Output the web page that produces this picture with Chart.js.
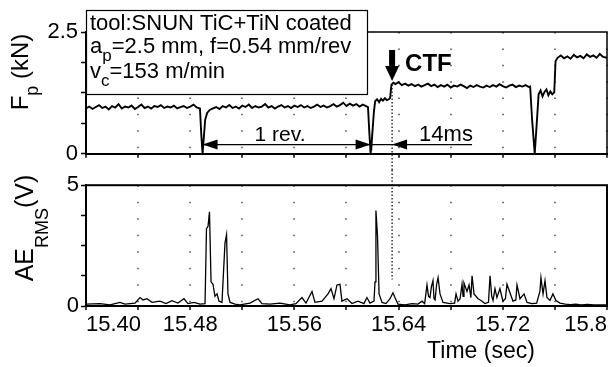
<!DOCTYPE html>
<html>
<head>
    <meta charset="UTF-8" />
    <title>Fp and AE_RMS vs time</title>
    <script src="https://cdn.jsdelivr.net/npm/chart.js@4.4.1/dist/chart.umd.min.js"></script>
    <style>
        body { margin: 0; background: #fff; }
        #wrap { position: relative; width: 611px; height: 367px; }
        #fpChart { position: absolute; left: 0; top: 0; }
        #aeChart { position: absolute; left: 0; top: 170px; }
    </style>
</head>
<body>
<div id="wrap">
    <canvas id="fpChart" width="611" height="170"></canvas>
    <canvas id="aeChart" width="611" height="197"></canvas>
</div>
<script>
// tick labels
const xTickLabels = ['15.40', '', '15.48', '', '15.56', '', '15.64', '', '15.72', '', '15.8'];
const fpTickLabels = ['0', '', '', '', '', '', '', '', '2.5'];
const aeTickLabels = ['0', '', '', '', '', '', '', '', '5'];

// thrust force Fp (kN)
const fpTime = [
    15.400, 15.4025, 15.405, 15.4075, 15.410, 15.4125, 15.415, 15.4175, 15.420, 15.4225,
    15.425, 15.4275, 15.430, 15.4325, 15.435, 15.4375, 15.440, 15.4425, 15.445, 15.4475,
    15.450, 15.4525, 15.455, 15.4575, 15.460, 15.4625, 15.465, 15.4675, 15.470, 15.4725,
    15.475, 15.4775, 15.480, 15.4825, 15.485, 15.4875,
    15.4885, 15.4895, 15.4905, 15.4915, 15.493, 15.495, 15.4975,
    15.500, 15.5025, 15.505, 15.5075, 15.510, 15.5125, 15.515, 15.5175, 15.520, 15.5225,
    15.525, 15.5275, 15.530, 15.5325, 15.535, 15.5375, 15.540, 15.5425, 15.545, 15.5475,
    15.550, 15.5525, 15.555, 15.5575, 15.560, 15.5625, 15.565, 15.5675, 15.570, 15.5725,
    15.575, 15.5775, 15.580, 15.5825, 15.585, 15.5875, 15.590, 15.5925, 15.595, 15.5975,
    15.600, 15.6025, 15.605, 15.6075, 15.610, 15.6125, 15.615, 15.6165,
    15.6175, 15.6185, 15.6195, 15.621, 15.622, 15.6235, 15.625, 15.6265, 15.628, 15.6295,
    15.631, 15.6325, 15.6335, 15.6345, 15.636,
    15.6375, 15.640, 15.6425, 15.645, 15.6475, 15.650, 15.6525, 15.655, 15.6575, 15.660,
    15.6625, 15.665, 15.6675, 15.670, 15.6725, 15.675, 15.6775, 15.680, 15.6825, 15.685,
    15.6875, 15.690, 15.6925, 15.695, 15.6975, 15.700, 15.7025, 15.705, 15.7075, 15.710,
    15.7125, 15.715, 15.7175, 15.720, 15.7225, 15.725, 15.7275, 15.730, 15.7325, 15.735,
    15.7375, 15.740, 15.741,
    15.7425, 15.7445, 15.746, 15.7475, 15.749, 15.7505, 15.752, 15.7535, 15.755, 15.7565,
    15.758, 15.7595, 15.7605, 15.762,
    15.7645, 15.767, 15.7695, 15.772, 15.7745, 15.777, 15.7795, 15.782, 15.7845, 15.787,
    15.7895, 15.792, 15.7945, 15.797, 15.800
];
const fpKN = [
    0.93, 0.97, 0.92, 0.96, 1.00, 0.94, 0.97, 0.91, 0.98, 0.95,
    1.02, 0.93, 0.97, 0.95, 0.99, 0.92, 0.96, 1.01, 0.94, 0.97,
    0.93, 0.98, 0.96, 1.00, 0.94, 0.97, 0.95, 0.99, 0.93, 0.96,
    0.98, 0.94, 0.97, 1.01, 0.95, 0.93,
    0.40, 0.00, 0.35, 0.70, 0.84, 0.90, 0.93,
    0.96, 0.92, 0.98, 0.95, 1.00, 0.94, 0.97, 0.93, 0.99, 0.96,
    1.01, 0.94, 0.98, 0.95, 0.97, 1.02, 0.95, 0.98, 0.93, 0.97,
    1.00, 0.95, 0.98, 0.94, 0.99, 0.96, 1.00, 0.95, 0.98, 0.94,
    0.97, 1.01, 0.96, 0.99, 0.95, 0.98, 1.02, 0.97, 1.00, 1.05,
    0.98, 1.03, 0.99, 1.02, 0.97, 1.01, 0.98, 0.96,
    0.45, 0.00, 0.30, 0.85, 1.08, 1.12, 1.06, 1.13, 1.09, 1.14,
    1.10, 1.12, 1.15, 1.42, 1.46,
    1.43, 1.47, 1.41, 1.44, 1.40, 1.43, 1.39, 1.42, 1.38, 1.41,
    1.44, 1.39, 1.42, 1.37, 1.41, 1.38, 1.42, 1.36, 1.40, 1.38,
    1.42, 1.39, 1.35, 1.40, 1.37, 1.41, 1.38, 1.36, 1.40, 1.37,
    1.41, 1.38, 1.43, 1.39, 1.36, 1.40, 1.42, 1.37, 1.40, 1.38,
    1.41, 1.37, 1.38,
    0.70, 0.00, 0.60, 1.22, 1.30, 1.18, 1.27, 1.32, 1.20, 1.28,
    1.22, 1.26, 1.90, 1.97,
    2.02, 1.96, 2.00, 1.95, 2.03, 1.98, 2.01, 1.96, 2.04, 1.99,
    2.02, 1.97, 2.05, 1.99, 1.97
];

// acoustic emission AE_RMS (V)
const aeTime = [
    15.400, 15.4107, 15.4184, 15.4261, 15.4299, 15.4376, 15.4415, 15.4438, 15.4468, 15.4507,
    15.4568, 15.4614, 15.4660, 15.4706, 15.4752, 15.4783, 15.4829, 15.4875, 15.4914, 15.4925,
    15.4937, 15.4948, 15.4960, 15.4975, 15.4990, 15.5006, 15.5021, 15.5044, 15.5052, 15.5067,
    15.5079, 15.5090, 15.5106, 15.5144, 15.5182, 15.5259, 15.5321, 15.5351, 15.5413, 15.5489,
    15.5566, 15.5612, 15.5658, 15.5689, 15.5735, 15.5758, 15.5812, 15.5858, 15.5881, 15.5904,
    15.5927, 15.5950, 15.5965, 15.6004, 15.6042, 15.6088, 15.6134, 15.6157, 15.6180, 15.6211,
    15.6219, 15.6226, 15.6238, 15.6250, 15.6273, 15.6303, 15.6334, 15.6357, 15.6372, 15.6395,
    15.6449, 15.6503, 15.6549, 15.6580, 15.6600, 15.6618, 15.6630, 15.6641, 15.6652, 15.6664,
    15.6672, 15.6680, 15.6692, 15.6703, 15.6718, 15.6741, 15.6795, 15.6830, 15.6841, 15.6856,
    15.6872, 15.6887, 15.6895, 15.6902, 15.6925, 15.6941, 15.6955, 15.6964, 15.6979, 15.7010,
    15.7033, 15.7063, 15.7090, 15.7102, 15.7115, 15.7125, 15.7140, 15.7155, 15.7178, 15.7201,
    15.7220, 15.7232, 15.7255, 15.7278, 15.7300, 15.7309, 15.7332, 15.7363, 15.7386, 15.7424,
    15.7460, 15.7485, 15.7493, 15.7509, 15.7524, 15.7539, 15.7562, 15.7585, 15.7608, 15.7639,
    15.7680, 15.7720, 15.7760, 15.7800, 15.7850, 15.7900, 15.8000
];
const aeVolt = [
    0.08, 0.10, 0.05, 0.15, 0.08, 0.12, 0.35, 0.25, 0.30, 0.15,
    0.20, 0.10, 0.22, 0.12, 0.30, 0.10, 0.15, 0.08, 0.10, 3.20,
    3.30, 3.90, 1.00, 0.90, 0.40, 0.50, 0.20, 0.15, 1.00, 2.60,
    2.95, 0.50, 0.15, 0.08, 0.05, 0.12, 0.30, 0.10, 0.08, 0.12,
    0.05, 0.10, 0.35, 0.12, 0.60, 0.15, 0.20, 0.50, 0.72, 0.30,
    0.87, 0.90, 0.20, 0.30, 0.10, 0.20, 0.10, 0.35, 0.12, 0.20,
    1.00, 3.95, 2.90, 0.50, 0.15, 0.10, 0.30, 0.55, 0.35, 0.08,
    0.05, 0.10, 0.08, 0.20, 0.10, 0.87, 0.40, 0.35, 0.80, 1.05,
    0.30, 0.25, 0.90, 1.17, 0.50, 0.15, 0.10, 0.12, 0.50, 0.20,
    0.30, 0.90, 0.40, 0.95, 0.60, 0.87, 0.35, 1.25, 0.50, 0.30,
    0.23, 0.10, 0.15, 1.25, 0.40, 0.23, 0.72, 0.35, 0.72, 0.20,
    0.30, 0.90, 0.55, 0.20, 0.25, 0.87, 0.30, 0.50, 0.15, 0.10,
    0.12, 0.60, 1.17, 0.50, 1.05, 0.35, 0.23, 0.50, 0.23, 0.12,
    0.08, 0.06, 0.08, 0.05, 0.07, 0.05, 0.05
];

// annotation anchors (axis units)
const ctfTime = 15.635, ctfLevel = 1.42, aeDotTop = 1.1;
const revStart = 15.4895, revEnd = 15.6185, dimEnd = 15.6964, dimLevel = 0.19, dimTextLevel = 0.27;

const FONT = "'Liberation Sans', Arial, sans-serif";
Chart.defaults.font.family = FONT;
Chart.defaults.color = '#000';

function drawParts(ctx, x, y, parts, weight) {
    parts.forEach(([txt, size, dy]) => {
        ctx.font = (weight || '') + ' ' + size + 'px ' + FONT;
        ctx.fillText(txt, x, y + dy);
        x += ctx.measureText(txt).width;
    });
}

function drawRotated(ctx, cx, cy, parts) {
    let w = 0;
    parts.forEach(([txt, size]) => { ctx.font = size + 'px ' + FONT; w += ctx.measureText(txt).width; });
    ctx.save();
    ctx.translate(cx, cy);
    ctx.rotate(-Math.PI / 2);
    drawParts(ctx, -w / 2, 0, parts);
    ctx.restore();
}

function drawFrame(ctx, a, lw) {
    ctx.strokeStyle = '#000';
    ctx.lineWidth = lw;
    ctx.strokeRect(a.left, a.top, a.right - a.left, a.bottom - a.top);
}

function arrowHead(ctx, x, y, dir) {
    ctx.beginPath();
    ctx.moveTo(x, y);
    ctx.lineTo(x - dir * 15, y - 5);
    ctx.lineTo(x - dir * 15, y + 5);
    ctx.closePath();
    ctx.fill();
}

const fpDecor = {
    id: 'fpDecor',
    afterDraw(chart) {
        const { ctx, chartArea, scales: { x, y } } = chart;
        ctx.save();
        ctx.textAlign = 'left';
        ctx.textBaseline = 'alphabetic';
        ctx.fillStyle = '#000';
        drawFrame(ctx, chartArea, 1.5);
        drawRotated(ctx, 28, 72, [['F', 24, 0], ['p', 18, 10], [' (kN)', 24, 0]]);

        // cutting condition box
        ctx.fillStyle = '#fff';
        ctx.fillRect(86, 10, 282, 85);
        ctx.lineWidth = 1.2;
        ctx.strokeRect(86.5, 10.5, 281, 84);
        ctx.fillStyle = '#000';
        drawParts(ctx, 90, 30, [['tool:SNUN TiC+TiN coated', 22, 0]]);
        drawParts(ctx, 90, 53, [['a', 22, 0], ['p', 17, 8], ['=2.5 mm, f=0.54 mm/rev', 22, 0]]);
        drawParts(ctx, 90, 78, [['v', 22, 0], ['c', 17, 8], ['=153 m/min', 22, 0]]);

        // CTF marker
        const xc = x.getPixelForValue(ctfTime);
        ctx.fillRect(xc - 3, 50, 6, 18);
        ctx.beginPath();
        ctx.moveTo(xc - 7, 66);
        ctx.lineTo(xc + 7, 66);
        ctx.lineTo(xc, 81);
        ctx.closePath();
        ctx.fill();
        drawParts(ctx, xc + 13, 71, [['CTF', 24, 0]], 'bold');

        ctx.save();
        ctx.setLineDash([1.5, 2]);
        ctx.lineWidth = 1.2;
        ctx.beginPath();
        ctx.moveTo(xc, y.getPixelForValue(ctfLevel));
        ctx.lineTo(xc, chart.height);
        ctx.stroke();
        ctx.restore();

        // 1 rev. / 14ms dimension
        const dy = y.getPixelForValue(dimLevel);
        const x0 = x.getPixelForValue(revStart), x1 = x.getPixelForValue(revEnd), x2 = x.getPixelForValue(dimEnd);
        ctx.lineWidth = 1.3;
        ctx.beginPath();
        ctx.moveTo(x0, dy);
        ctx.lineTo(x2, dy);
        ctx.moveTo(x1 + 1, dy - 6);
        ctx.lineTo(x1 + 1, dy + 6);
        ctx.stroke();
        arrowHead(ctx, x0, dy, -1);
        arrowHead(ctx, x1, dy, 1);
        arrowHead(ctx, xc, dy, -1);
        const ty = y.getPixelForValue(dimTextLevel);
        ctx.textAlign = 'center';
        ctx.font = '21px ' + FONT;
        ctx.fillText('1 rev.', x.getPixelForValue(15.549), ty);
        ctx.font = '22px ' + FONT;
        ctx.fillText('14ms', x.getPixelForValue(15.6764), ty);
        ctx.restore();
    }
};

const aeDecor = {
    id: 'aeDecor',
    afterDraw(chart) {
        const { ctx, chartArea, scales: { x, y } } = chart;
        ctx.save();
        ctx.textAlign = 'left';
        ctx.textBaseline = 'alphabetic';
        ctx.fillStyle = '#000';
        drawFrame(ctx, chartArea, 2);
        drawRotated(ctx, 33, 58, [['AE', 25, 0], ['RMS', 18, 15], ['(V)', 25, 0]]);

        const xc = x.getPixelForValue(ctfTime);
        ctx.save();
        ctx.setLineDash([1.5, 2]);
        ctx.lineWidth = 1.2;
        ctx.beginPath();
        ctx.moveTo(xc, 0);
        ctx.lineTo(xc, y.getPixelForValue(aeDotTop));
        ctx.stroke();
        ctx.restore();

        ctx.textAlign = 'center';
        ctx.font = '23px ' + FONT;
        ctx.fillText('Time (sec)', 481, 188);
        ctx.restore();
    }
};

function majorTick(c) {
    return c.index % 2 === 0 ? '#000' : 'rgba(0,0,0,0)';
}

function panelOptions(cfg) {
    return {
        responsive: false,
        animation: false,
        layout: { padding: { top: cfg.top, right: 4, left: 0, bottom: 0 } },
        plugins: { legend: { display: false }, tooltip: { enabled: false } },
        scales: {
            x: {
                type: 'linear', min: 15.4, max: 15.8,
                ticks: {
                    display: cfg.showX, stepSize: 0.04, autoSkip: false,
                    maxRotation: 0, minRotation: 0, align: 'inner', padding: 2,
                    font: { size: 22 },
                    callback: (v, i) => xTickLabels[i]
                },
                grid: { color: '#777', lineWidth: 2, tickLength: 4, tickWidth: 1.5, tickColor: '#000' },
                border: { color: '#000', width: 2, dash: cfg.dash },
                afterFit: s => { s.height = cfg.xHeight; }
            },
            y: {
                min: 0, max: cfg.yMax,
                ticks: {
                    stepSize: cfg.yStep, autoSkip: false, padding: cfg.yPad,
                    font: { size: 22 },
                    callback: (v, i) => cfg.yLabels[i]
                },
                grid: { drawOnChartArea: false, tickLength: 5, tickWidth: 1.5, tickColor: majorTick },
                border: { color: '#000', width: 2 },
                afterFit: s => { s.width = 86; }
            }
        }
    };
}

new Chart(document.getElementById('fpChart'), {
    type: 'line',
    data: {
        datasets: [{
            data: fpTime.map((t, i) => ({ x: t, y: fpKN[i] })),
            borderColor: '#000', borderWidth: 1.9, pointRadius: 0, tension: 0
        }]
    },
    options: panelOptions({ top: 32, showX: false, xHeight: 7, dash: [1.5, 14.875], yMax: 2.5, yStep: 0.3125, yPad: 3, yLabels: fpTickLabels }),
    plugins: [fpDecor]
});

new Chart(document.getElementById('aeChart'), {
    type: 'line',
    data: {
        datasets: [{
            data: aeTime.map((t, i) => ({ x: t, y: aeVolt[i] })),
            borderColor: '#000', borderWidth: 1.3, pointRadius: 0, tension: 0
        }]
    },
    options: panelOptions({ top: 4, showX: true, xHeight: 61, dash: [1.5, 15], yMax: 5, yStep: 0.625, yPad: 2, yLabels: aeTickLabels }),
    plugins: [aeDecor]
});
</script>
</body>
</html>
